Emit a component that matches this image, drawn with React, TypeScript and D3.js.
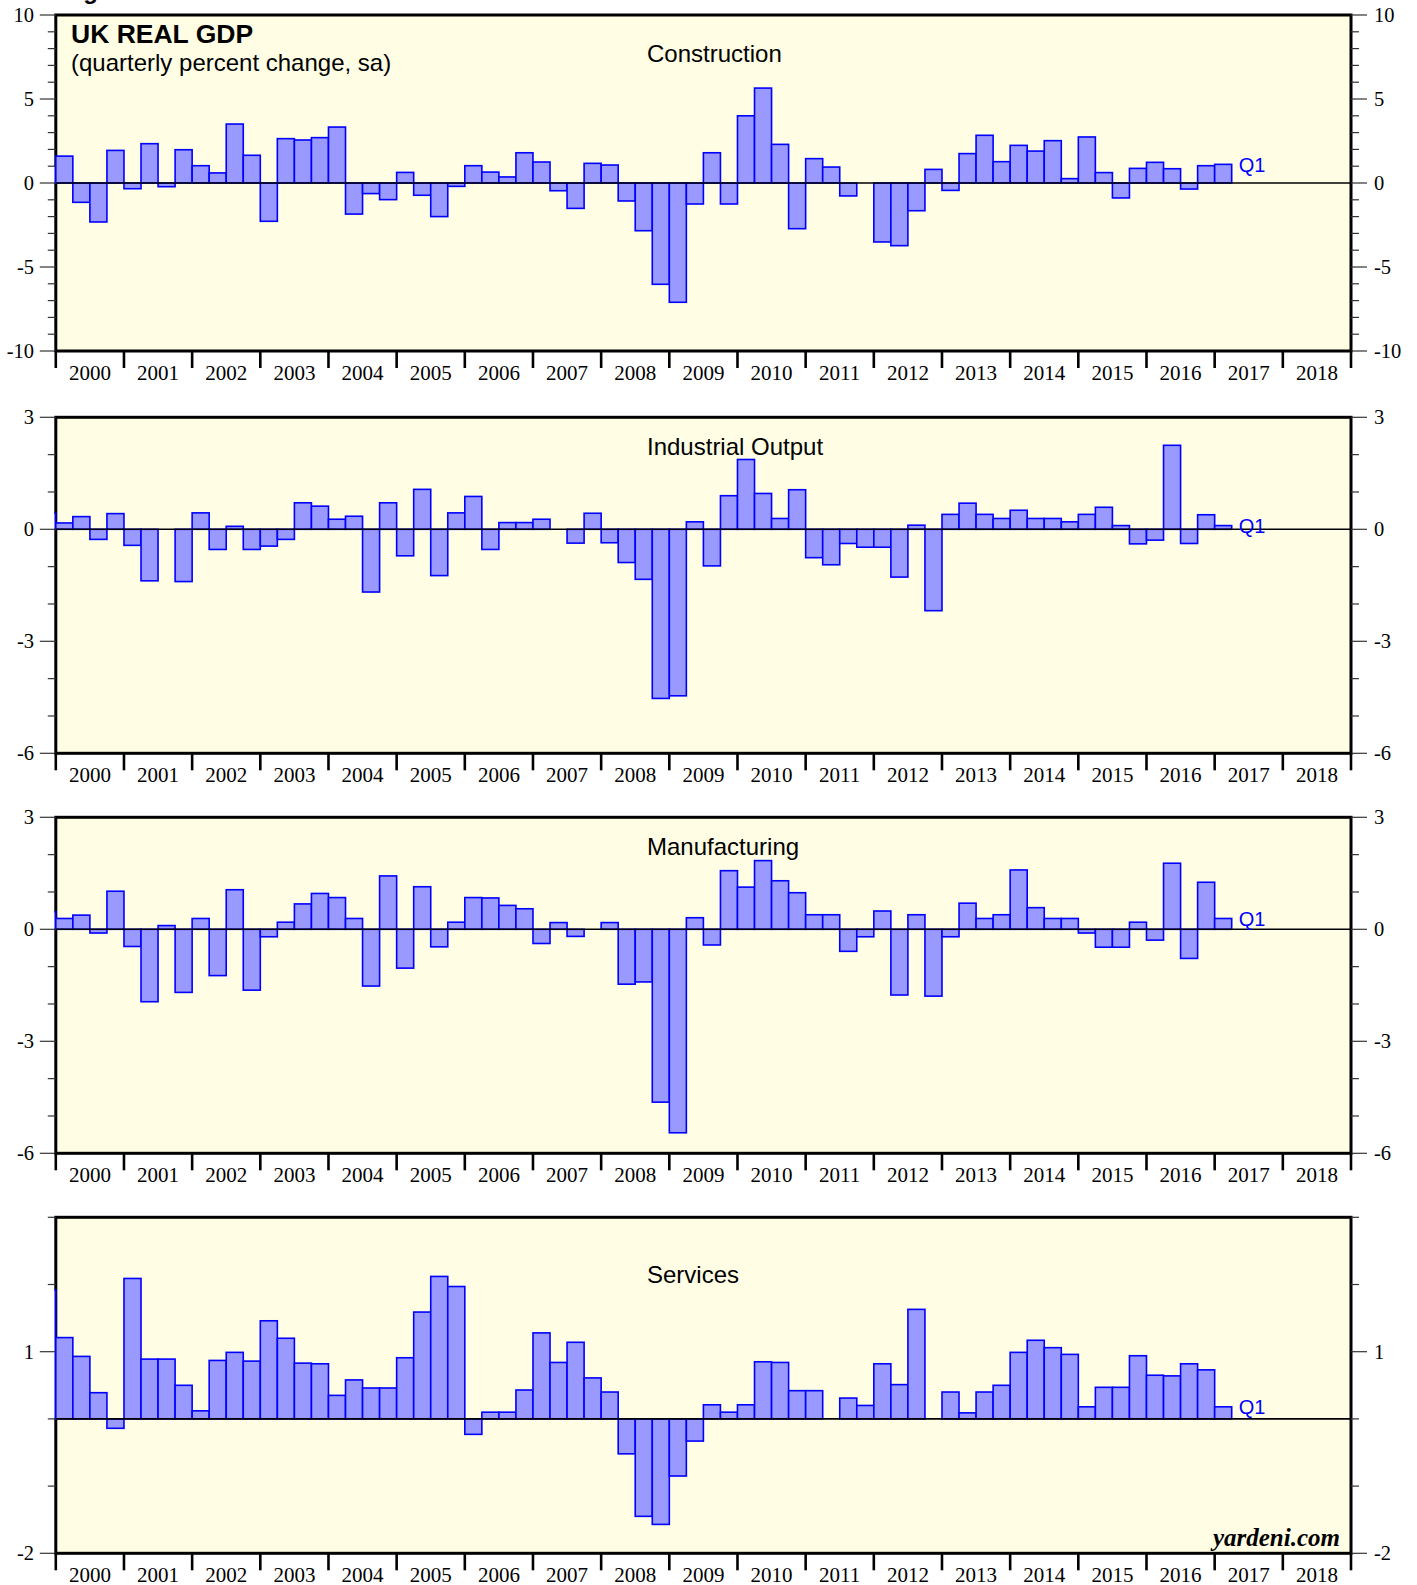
import * as d3 from "d3";
import React from "react";

// quarterly percent change, sa — 2000Q1 .. 2017Q1
const years = d3.range(2000, 2019);
const construction = [
  1.6, -1.15, -2.32, 1.94, -0.34, 2.34, -0.22, 1.98, 1.03, 0.6, 3.51, 1.65,
  -2.28, 2.64, 2.56, 2.7, 3.33, -1.85, -0.63, -0.99, 0.63, -0.73, -2.0, -0.2,
  1.03, 0.65, 0.36, 1.8, 1.25, -0.46, -1.51, 1.17, 1.07, -1.07, -2.84, -6.03,
  -7.1, -1.25, 1.8, -1.25, 4.0, 5.65, 2.3, -2.72, 1.45, 0.95, -0.77, 0.0,
  -3.51, -3.73, -1.65, 0.81, -0.44, 1.75, 2.84, 1.27, 2.24, 1.9, 2.52, 0.26,
  2.74, 0.62, -0.89, 0.87, 1.23, 0.85, -0.36, 1.03, 1.11,
];
const industrial = [
  0.17, 0.34, -0.27, 0.42, -0.43, -1.38, 0.0, -1.4, 0.44, -0.54, 0.08, -0.54,
  -0.45, -0.27, 0.71, 0.62, 0.27, 0.35, -1.68, 0.71, -0.71, 1.07, -1.24, 0.44,
  0.88, -0.54, 0.18, 0.18, 0.27, 0.0, -0.37, 0.43, -0.36, -0.89, -1.34, -4.53,
  -4.46, 0.2, -0.98, 0.9, 1.87, 0.96, 0.29, 1.06, -0.76, -0.95, -0.38, -0.48,
  -0.48, -1.28, 0.11, -2.18, 0.4, 0.7, 0.4, 0.29, 0.51, 0.29, 0.29, 0.2,
  0.4, 0.59, 0.1, -0.39, -0.29, 2.25, -0.38, 0.39, 0.1,
];
const manufacturing = [
  0.29, 0.38, -0.1, 1.02, -0.46, -1.94, 0.1, -1.69, 0.29, -1.24, 1.06, -1.63,
  -0.2, 0.19, 0.68, 0.96, 0.85, 0.29, -1.52, 1.43, -1.04, 1.14, -0.47, 0.19,
  0.85, 0.84, 0.64, 0.55, -0.38, 0.18, -0.19, 0.0, 0.18, -1.47, -1.41, -4.63,
  -5.45, 0.31, -0.42, 1.57, 1.13, 1.84, 1.3, 0.98, 0.39, 0.39, -0.59, -0.2,
  0.49, -1.76, 0.39, -1.79, -0.2, 0.7, 0.29, 0.39, 1.59, 0.58, 0.29, 0.29,
  -0.1, -0.48, -0.48, 0.19, -0.29, 1.77, -0.78, 1.26, 0.29,
];
const services = [
  1.21, 0.93, 0.39, -0.14, 2.09, 0.89, 0.89, 0.5, 0.12, 0.87, 0.99, 0.86,
  1.46, 1.2, 0.83, 0.82, 0.35, 0.58, 0.46, 0.46, 0.91, 1.59, 2.12, 1.97,
  -0.23, 0.1, 0.1, 0.43, 1.28, 0.84, 1.14, 0.61, 0.4, -0.52, -1.45, -1.57,
  -0.85, -0.33, 0.21, 0.1, 0.21, 0.85, 0.84, 0.42, 0.42, 0.0, 0.31, 0.2,
  0.82, 0.51, 1.63, 0.0, 0.4, 0.09, 0.4, 0.5, 0.99, 1.17, 1.06, 0.96,
  0.18, 0.47, 0.47, 0.94, 0.65, 0.64, 0.82, 0.73, 0.18,
];
// 1999Q4, only its edge peeks in at the left frame
const prior = { construction: 1.0, industrial: 0.43, manufacturing: 0.47, services: 1.92 };

const W = 1417;
const H = 1585;
const X0 = 55.8;
const X1 = 1351;
const PH = 336;

const sans = "'Liberation Sans', Arial, Helvetica, sans-serif";
const serif = "'Liberation Serif', 'Times New Roman', Times, serif";

const bg = "#FFFEE4";
const barFill = "#9999FF";
const barLine = "#0000FF";

type PanelProps = {
  id: string;
  top: number;
  lo: number;
  hi: number;
  labels: number[];
  title: string;
  titleY: number;
  values: number[];
  first: number;
};

const Panel = (props: PanelProps) => {
  const { id, top, lo, hi, labels, title, titleY, values, first } = props;
  const bottom = top + PH;

  const x = d3.scaleLinear().domain([2000, 2019]).range([X0, X1]);
  const y = d3.scaleLinear().domain([lo, hi]).range([bottom, top]);

  const series = [first, ...values];
  const minor = d3.range(lo, hi + 1);
  const last = values[values.length - 1];

  return (
    <g>
      <defs>
        <clipPath id={"clip-" + id}>
          <rect x={X0 - 1.5} y={top} width={X1 - X0 + 1.5} height={PH} />
        </clipPath>
      </defs>
      <rect x={X0} y={top} width={X1 - X0} height={PH} fill={bg} />

      {/* frame */}
      <rect x={X0} y={top} width={X1 - X0} height={PH} fill="none" stroke="#000" strokeWidth={3} />

      {/* bars */}
      <g clipPath={`url(#clip-${id})`}>
        {series.map((v, i) => {
          if (v === 0) return null;
          const t = 2000 + (i - 1) / 4;
          const x0 = x(t);
          const x1 = x(t + 0.25);
          const y0 = y(Math.max(0, v));
          const y1 = y(Math.min(0, v));
          return (
            <rect key={i} x={x0} y={y0} width={x1 - x0} height={y1 - y0}
              fill={barFill} stroke={barLine} strokeWidth={1.6} />
          );
        })}
      </g>

      <line x1={X0} x2={X1} y1={y(0)} y2={y(0)} stroke="#000" strokeWidth={1.6} />

      {/* side ticks */}
      {minor.map((v) => {
        const major = labels.includes(v);
        const len = major ? 16 : 8;
        return (
          <g key={"t" + v} stroke="#333" strokeWidth={1.2}>
            <line x1={X0 - len} x2={X0} y1={y(v)} y2={y(v)} />
            <line x1={X1} x2={X1 + len} y1={y(v)} y2={y(v)} />
          </g>
        );
      })}
      {labels.map((v) => (
        <g key={"l" + v} fontFamily={serif} fontSize={20.5} fill="#000">
          <text x={34} y={y(v) + 7} textAnchor="end">{v}</text>
          <text x={1374} y={y(v) + 7} textAnchor="start">{v}</text>
        </g>
      ))}

      {/* year ticks and labels */}
      {d3.range(2000, 2020).map((yr) => (
        <line key={"y" + yr} x1={x(yr)} x2={x(yr)} y1={bottom} y2={bottom + 17}
          stroke="#000" strokeWidth={2.6} />
      ))}
      {years.map((yr) => (
        <text key={"yl" + yr} x={x(yr + 0.5)} y={bottom + 28.5} textAnchor="middle"
          fontFamily={serif} fontSize={21} fill="#000">{yr}</text>
      ))}

      <text x={647} y={titleY} fontFamily={sans} fontSize={24} fill="#000">{title}</text>

      <text x={x(2000 + values.length / 4) + 7} y={y(last)} dy="0.36em"
        fontFamily={sans} fontSize={20} fill={barLine}>Q1</text>
    </g>
  );
};

const App = () => {
  return (
    <svg width={W} height={H} viewBox={`0 0 ${W} ${H}`}
      style={{ position: "absolute", left: 0, top: 0, background: "#fff" }}>
      <text x={62} y={-1} fontFamily={sans} fontWeight="bold" fontSize={24}>Figure</text>

      <Panel id="c" top={15} lo={-10} hi={10} labels={[-10, -5, 0, 5, 10]}
        title="Construction" titleY={62} values={construction} first={prior.construction} />
      <Panel id="i" top={417.3} lo={-6} hi={3} labels={[-6, -3, 0, 3]}
        title="Industrial Output" titleY={455} values={industrial} first={prior.industrial} />
      <Panel id="m" top={817.3} lo={-6} hi={3} labels={[-6, -3, 0, 3]}
        title="Manufacturing" titleY={855} values={manufacturing} first={prior.manufacturing} />
      <Panel id="s" top={1217.3} lo={-2} hi={3} labels={[-2, 1]}
        title="Services" titleY={1283} values={services} first={prior.services} />

      <text x={71} y={43} fontFamily={sans} fontWeight="bold" fontSize={26.5}>UK REAL GDP</text>
      <text x={71} y={70.5} fontFamily={sans} fontSize={24}>(quarterly percent change, sa)</text>

      <text x={1340} y={1546} textAnchor="end" fontFamily={serif} fontWeight="bold"
        fontStyle="italic" fontSize={25}>yardeni.com</text>
    </svg>
  );
};

export default App;
